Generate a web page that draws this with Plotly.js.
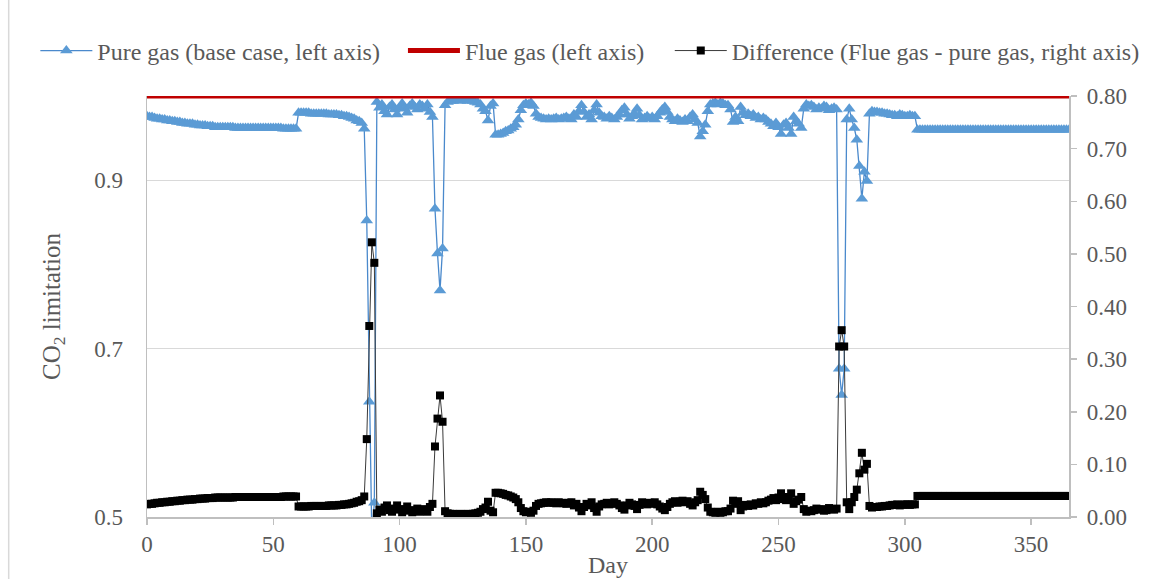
<!DOCTYPE html>
<html>
<head>
<meta charset="utf-8">
<script src="https://cdn.plot.ly/plotly-3.0.1.min.js"></script>
<style>html,body{margin:0;padding:0;background:#fff;}#chart{width:1157px;height:579px;}</style>
</head>
<body>
<div id="chart"></div>
<script>
const days = [
0,1,2,3,4,5,6,7,8,9,10,11,12,13,14,15,16,17,18,19,
20,21,22,23,24,25,26,27,28,29,30,31,32,33,34,35,36,37,38,39,
40,41,42,43,44,45,46,47,48,49,50,51,52,53,54,55,56,57,58,59,
60,61,62,63,64,65,66,67,68,69,70,71,72,73,74,75,76,77,78,79,
80,81,82,83,84,85,86,87,88,89,90,91,92,93,94,95,96,97,98,99,
100,101,102,103,104,105,106,107,108,109,110,111,112,113,114,115,116,117,118,119,
120,121,122,123,124,125,126,127,128,129,130,131,132,133,134,135,136,137,138,139,
140,141,142,143,144,145,146,147,148,149,150,151,152,153,154,155,156,157,158,159,
160,161,162,163,164,165,166,167,168,169,170,171,172,173,174,175,176,177,178,179,
180,181,182,183,184,185,186,187,188,189,190,191,192,193,194,195,196,197,198,199,
200,201,202,203,204,205,206,207,208,209,210,211,212,213,214,215,216,217,218,219,
220,221,222,223,224,225,226,227,228,229,230,231,232,233,234,235,236,237,238,239,
240,241,242,243,244,245,246,247,248,249,250,251,252,253,254,255,256,257,258,259,
260,261,262,263,264,265,266,267,268,269,270,271,272,273,274,275,276,277,278,279,
280,281,282,283,284,285,286,287,288,289,290,291,292,293,294,295,296,297,298,299,
300,301,302,303,304,305,306,307,308,309,310,311,312,313,314,315,316,317,318,319,
320,321,322,323,324,325,326,327,328,329,330,331,332,333,334,335,336,337,338,339,
340,341,342,343,344,345,346,347,348,349,350,351,352,353,354,355,356,357,358,359,
360,361,362,363,364,365];

const pureGas = [
0.976,0.975,0.975,0.974,0.973,0.973,0.972,0.972,0.971,0.971,
0.970,0.970,0.969,0.969,0.968,0.968,0.967,0.967,0.967,0.966,
0.966,0.965,0.965,0.965,0.964,0.964,0.964,0.963,0.963,0.963,
0.963,0.963,0.963,0.963,0.963,0.962,0.962,0.962,0.962,0.962,
0.962,0.962,0.962,0.962,0.962,0.962,0.962,0.962,0.962,0.962,
0.962,0.962,0.962,0.962,0.961,0.961,0.961,0.961,0.961,0.961,
0.980,0.980,0.980,0.980,0.980,0.979,0.979,0.979,0.979,0.979,
0.979,0.979,0.978,0.978,0.978,0.978,0.977,0.977,0.976,0.976,
0.975,0.974,0.973,0.971,0.970,0.968,0.961,0.852,0.637,0.478,
0.517,0.993,0.986,0.990,0.982,0.978,0.987,0.990,0.984,0.978,
0.986,0.991,0.985,0.980,0.988,0.991,0.987,0.984,0.990,0.988,
0.985,0.990,0.981,0.975,0.866,0.813,0.769,0.819,0.989,0.993,
0.994,0.994,0.995,0.995,0.994,0.995,0.995,0.994,0.995,0.994,
0.993,0.992,0.990,0.985,0.982,0.971,0.988,0.991,0.954,0.954,
0.955,0.956,0.958,0.959,0.961,0.963,0.966,0.972,0.983,0.989,
0.991,0.990,0.992,0.988,0.979,0.975,0.974,0.973,0.972,0.973,
0.972,0.973,0.974,0.972,0.973,0.974,0.975,0.973,0.972,0.978,
0.975,0.982,0.989,0.981,0.975,0.978,0.972,0.983,0.990,0.980,
0.976,0.975,0.973,0.976,0.974,0.972,0.975,0.978,0.983,0.986,
0.978,0.973,0.976,0.979,0.985,0.977,0.972,0.974,0.976,0.973,
0.975,0.972,0.976,0.980,0.984,0.987,0.981,0.975,0.972,0.970,
0.973,0.971,0.969,0.972,0.970,0.975,0.978,0.972,0.968,0.952,
0.958,0.966,0.982,0.990,0.991,0.992,0.990,0.992,0.991,0.989,
0.989,0.984,0.969,0.975,0.970,0.987,0.980,0.977,0.979,0.976,
0.978,0.974,0.975,0.972,0.974,0.972,0.969,0.967,0.964,0.968,
0.963,0.955,0.966,0.968,0.962,0.955,0.975,0.970,0.967,0.962,
0.985,0.990,0.988,0.989,0.987,0.984,0.986,0.985,0.988,0.987,
0.983,0.985,0.986,0.984,0.676,0.645,0.676,0.972,0.985,0.972,
0.962,0.948,0.917,0.878,0.910,0.899,0.979,0.982,0.981,0.981,
0.980,0.980,0.979,0.979,0.978,0.977,0.977,0.976,0.978,0.977,
0.976,0.976,0.977,0.976,0.976,0.960,0.960,0.960,0.960,0.960,
0.960,0.960,0.960,0.960,0.960,0.960,0.960,0.960,0.960,0.960,
0.960,0.960,0.960,0.960,0.960,0.960,0.960,0.960,0.960,0.960,
0.960,0.960,0.960,0.960,0.960,0.960,0.960,0.960,0.960,0.960,
0.960,0.960,0.960,0.960,0.960,0.960,0.960,0.960,0.960,0.960,
0.960,0.960,0.960,0.960,0.960,0.960,0.960,0.960,0.960,0.960,
0.960,0.960,0.960,0.960,0.960,0.960];

const flueGas = [
1,1,1,1,1,1,1,1,1,1,1,1,1,1,1,1,1,1,1,1,
1,1,1,1,1,1,1,1,1,1,1,1,1,1,1,1,1,1,1,1,
1,1,1,1,1,1,1,1,1,1,1,1,1,1,1,1,1,1,1,1,
1,1,1,1,1,1,1,1,1,1,1,1,1,1,1,1,1,1,1,1,
1,1,1,1,1,1,1,1,1,1,1,1,1,1,1,1,1,1,1,1,
1,1,1,1,1,1,1,1,1,1,1,1,1,1,1,1,1,1,1,1,
1,1,1,1,1,1,1,1,1,1,1,1,1,1,1,1,1,1,1,1,
1,1,1,1,1,1,1,1,1,1,1,1,1,1,1,1,1,1,1,1,
1,1,1,1,1,1,1,1,1,1,1,1,1,1,1,1,1,1,1,1,
1,1,1,1,1,1,1,1,1,1,1,1,1,1,1,1,1,1,1,1,
1,1,1,1,1,1,1,1,1,1,1,1,1,1,1,1,1,1,1,1,
1,1,1,1,1,1,1,1,1,1,1,1,1,1,1,1,1,1,1,1,
1,1,1,1,1,1,1,1,1,1,1,1,1,1,1,1,1,1,1,1,
1,1,1,1,1,1,1,1,1,1,1,1,1,1,1,1,1,1,1,1,
1,1,1,1,1,1,1,1,1,1,1,1,1,1,1,1,1,1,1,1,
1,1,1,1,1,1,1,1,1,1,1,1,1,1,1,1,1,1,1,1,
1,1,1,1,1,1,1,1,1,1,1,1,1,1,1,1,1,1,1,1,
1,1,1,1,1,1,1,1,1,1,1,1,1,1,1,1,1,1,1,1,
1,1,1,1,1,1];

const difference = [
0.024,0.025,0.025,0.026,0.027,0.027,0.028,0.028,0.029,0.029,
0.030,0.030,0.031,0.031,0.032,0.032,0.033,0.033,0.033,0.034,
0.034,0.035,0.035,0.035,0.036,0.036,0.036,0.037,0.037,0.037,
0.037,0.037,0.037,0.037,0.037,0.038,0.038,0.038,0.038,0.038,
0.038,0.038,0.038,0.038,0.038,0.038,0.038,0.038,0.038,0.038,
0.038,0.038,0.038,0.038,0.039,0.039,0.039,0.039,0.039,0.039,
0.020,0.020,0.020,0.020,0.020,0.021,0.021,0.021,0.021,0.021,
0.021,0.021,0.022,0.022,0.022,0.022,0.023,0.023,0.024,0.024,
0.025,0.026,0.027,0.029,0.030,0.032,0.039,0.148,0.363,0.522,
0.483,0.007,0.014,0.010,0.018,0.022,0.013,0.010,0.016,0.022,
0.014,0.009,0.015,0.020,0.012,0.009,0.013,0.016,0.010,0.012,
0.015,0.010,0.019,0.025,0.134,0.187,0.231,0.181,0.011,0.007,
0.006,0.006,0.005,0.005,0.006,0.005,0.005,0.006,0.005,0.006,
0.007,0.008,0.010,0.015,0.018,0.029,0.012,0.009,0.046,0.046,
0.045,0.044,0.042,0.041,0.039,0.037,0.034,0.028,0.017,0.011,
0.009,0.010,0.008,0.012,0.021,0.025,0.026,0.027,0.028,0.027,
0.028,0.027,0.026,0.028,0.027,0.026,0.025,0.027,0.028,0.022,
0.025,0.018,0.011,0.019,0.025,0.022,0.028,0.017,0.010,0.020,
0.024,0.025,0.027,0.024,0.026,0.028,0.025,0.022,0.017,0.014,
0.022,0.027,0.024,0.021,0.015,0.023,0.028,0.026,0.024,0.027,
0.025,0.028,0.024,0.020,0.016,0.013,0.019,0.025,0.028,0.030,
0.027,0.029,0.031,0.028,0.030,0.025,0.022,0.028,0.032,0.048,
0.042,0.034,0.018,0.010,0.009,0.008,0.010,0.008,0.009,0.011,
0.011,0.016,0.031,0.025,0.030,0.013,0.020,0.023,0.021,0.024,
0.022,0.026,0.025,0.028,0.026,0.028,0.031,0.033,0.036,0.032,
0.037,0.045,0.034,0.032,0.038,0.045,0.025,0.030,0.033,0.038,
0.015,0.010,0.012,0.011,0.013,0.016,0.014,0.015,0.012,0.013,
0.017,0.015,0.014,0.016,0.324,0.355,0.324,0.028,0.015,0.028,
0.038,0.052,0.083,0.122,0.090,0.101,0.021,0.018,0.019,0.019,
0.020,0.020,0.021,0.021,0.022,0.023,0.023,0.024,0.022,0.023,
0.024,0.024,0.023,0.024,0.024,0.040,0.040,0.040,0.040,0.040,
0.040,0.040,0.040,0.040,0.040,0.040,0.040,0.040,0.040,0.040,
0.040,0.040,0.040,0.040,0.040,0.040,0.040,0.040,0.040,0.040,
0.040,0.040,0.040,0.040,0.040,0.040,0.040,0.040,0.040,0.040,
0.040,0.040,0.040,0.040,0.040,0.040,0.040,0.040,0.040,0.040,
0.040,0.040,0.040,0.040,0.040,0.040,0.040,0.040,0.040,0.040,
0.040,0.040,0.040,0.040,0.040,0.040];

const seriesNames = [
  'Pure gas (base case, left axis)',
  'Flue gas (left axis)',
  'Difference (Flue gas - pure gas, right axis)'
];
const xTicks = [0, 50, 100, 150, 200, 250, 300, 350];
const leftTicks = [0.5, 0.7, 0.9];
const leftTickText = ['0.5', '0.7', '0.9'];
const rightTicks = [0, 0.1, 0.2, 0.3, 0.4, 0.5, 0.6, 0.7, 0.8];
const rightTickText = ['0.00', '0.10', '0.20', '0.30', '0.40', '0.50', '0.60', '0.70', '0.80'];

const FONT = 'Liberation Serif, Times New Roman, serif';
const GREY = '#595959';
const AXIS = '#bfbfbf';

const traces = [
  {
    x: days, y: pureGas, name: seriesNames[0], type: 'scatter', mode: 'lines+markers',
    line: {color: '#4a89cc', width: 1.3},
    marker: {symbol: 'triangle-up', size: 11, color: '#5b9bd5'},
    yaxis: 'y', legend: 'legend'
  },
  {
    x: days, y: flueGas, name: seriesNames[1], type: 'scatter', mode: 'lines',
    line: {color: '#c00000', width: 5},
    yaxis: 'y', legend: 'legend2'
  },
  {
    x: days, y: difference, name: seriesNames[2], type: 'scatter', mode: 'lines+markers',
    line: {color: '#3a3a3a', width: 1},
    marker: {symbol: 'square', size: 8, color: '#000000'},
    yaxis: 'y2', legend: 'legend3'
  }
];

const legendBase = {
  orientation: 'h', yanchor: 'middle', y: 1.107, xanchor: 'left',
  font: {family: FONT, size: 24, color: GREY},
  bgcolor: 'rgba(0,0,0,0)', itemwidth: 52, borderwidth: 0
};

const layout = {
  width: 1157, height: 579,
  margin: {l: 147, r: 77, t: 96, b: 62},
  paper_bgcolor: '#ffffff', plot_bgcolor: '#ffffff',
  font: {family: FONT, color: GREY},
  showlegend: true,
  legend: Object.assign({}, legendBase, {x: -0.1211}),
  legend2: Object.assign({}, legendBase, {x: 0.2776}),
  legend3: Object.assign({}, legendBase, {x: 0.5670}),
  xaxis: {
    range: [0, 365], tickvals: xTicks, ticktext: xTicks.map(String),
    ticks: 'outside', ticklen: 6, tickcolor: AXIS, tickwidth: 1.5,
    showline: true, linecolor: AXIS, linewidth: 1.5,
    showgrid: false, zeroline: false,
    tickfont: {family: FONT, size: 23, color: GREY},
    title: {text: 'Day', font: {family: FONT, size: 24, color: GREY}, standoff: 0}
  },
  yaxis: {
    range: [0.5, 1.0], tickvals: leftTicks, ticktext: leftTickText,
    ticks: 'outside', ticklen: 18, tickcolor: 'rgba(0,0,0,0)',
    showline: true, linecolor: AXIS, linewidth: 1.5,
    showgrid: true, gridcolor: '#d9d9d9', gridwidth: 1.2, zeroline: false,
    tickfont: {family: FONT, size: 23, color: GREY},
    title: {text: 'CO<sub>2</sub> limitation', font: {family: FONT, size: 25, color: GREY}, standoff: 26}
  },
  yaxis2: {
    overlaying: 'y', side: 'right',
    range: [0, 0.8], tickvals: rightTicks, ticktext: rightTickText.map(t => '\u00a0' + t),
    ticks: 'outside', ticklen: 6, tickcolor: AXIS, tickwidth: 1.5,
    showline: true, linecolor: AXIS, linewidth: 1.5,
    showgrid: false, zeroline: false,
    tickfont: {family: FONT, size: 23, color: GREY}
  },
  shapes: [
    {type: 'line', xref: 'paper', yref: 'paper', x0: -0.1500, x1: -0.1500, y0: -0.3, y1: 1.4,
     line: {color: '#d9d9d9', width: 1.5}}
  ]
};

Plotly.newPlot('chart', traces, layout, {displayModeBar: false, responsive: false, staticPlot: true});
</script>
</body>
</html>
